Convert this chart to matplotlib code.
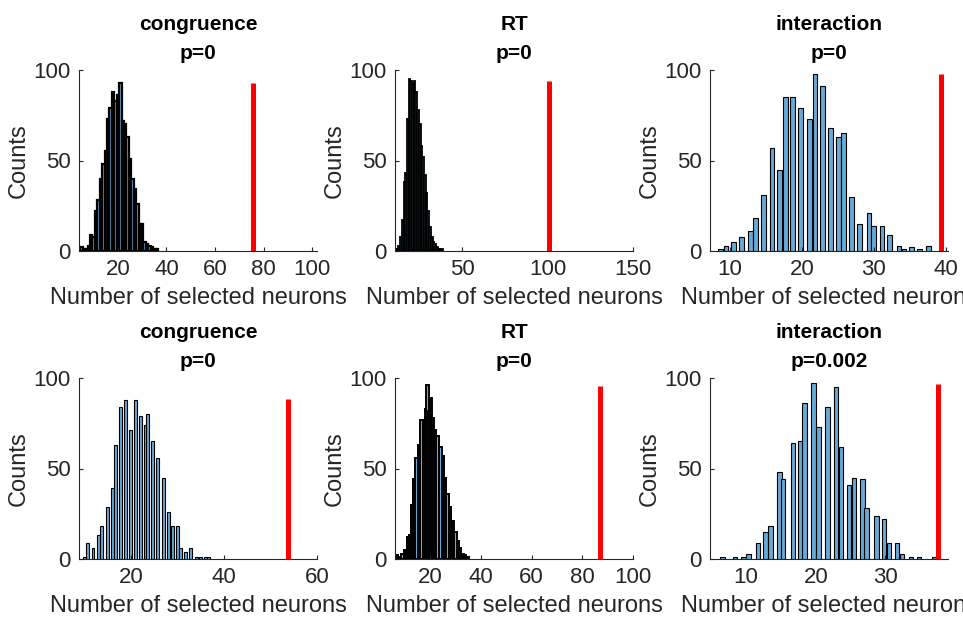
import matplotlib
matplotlib.use("Agg")
import matplotlib.pyplot as plt
import numpy as np

plt.rcParams["font.family"] = ["Liberation Sans", "DejaVu Sans"]

# permutation histograms (bin centres + counts)
cong1_x = list(range(5, 37))
cong1_n = [2, 1, 1, 3, 9, 8, 22, 28, 40, 48, 55, 73, 79, 88, 83, 86,
           93, 72, 70, 63, 51, 40, 34, 26, 15, 15, 5, 4, 3, 2, 1, 1]
rt1_x = list(range(11, 39))
rt1_n = [1, 1, 3, 8, 17, 38, 43, 73, 95, 94, 92, 94, 88, 78, 70, 58,
         52, 42, 32, 22, 13, 8, 5, 4, 2, 1, 1, 1]
int1_x = [8.65, 9.44, 10.5, 11.6, 12.8, 13.5, 14.65, 15.8, 16.9, 17.7,
          18.7, 19.8, 21.0, 21.8, 22.8, 24.0, 25.1, 25.8, 26.9, 28.0,
          29.3, 29.9, 31.1, 32.2, 33.5, 34.2, 35.2, 36.3, 37.6]
int1_n = [1, 3, 5, 8, 11, 18, 31, 57, 45, 85, 85, 79, 73, 98, 91, 68,
          63, 65, 30, 15, 21, 14, 14, 9, 3, 1, 2, 1, 3]
cong2_x = [10.0, 10.7, 11.8, 13.0, 13.7, 15.0, 16.0, 16.7, 17.8, 18.8,
           19.8, 21.0, 22.0, 23.1, 23.6, 24.6, 25.7, 26.9, 28.0, 28.9,
           30.0, 30.7, 31.7, 32.8, 34.0, 35.0, 36.0, 36.7]
cong2_n = [1, 9, 6, 13, 18, 29, 39, 63, 84, 88, 71, 88, 79, 74, 80, 65,
           56, 45, 26, 18, 18, 6, 4, 6, 1, 1, 1, 1]
rt2_x = [7.0, 8.0, 9.1, 10.2, 11.2, 12.1, 13.0, 13.8, 14.7, 15.7, 16.6,
         17.5, 18.3, 19.0, 19.6, 20.3, 21.2, 22.1, 23.0, 24.1, 25.0, 26.0,
         26.9, 28.0, 29.1, 30.0, 30.9, 31.9, 32.9, 33.9, 35.1]
rt2_n = [2, 1, 3, 5, 12, 13, 30, 44, 56, 63, 77, 77, 83, 96, 82, 89, 78,
         71, 68, 62, 57, 45, 36, 29, 21, 15, 10, 6, 3, 2, 1]
int2_x = [6.58, 8.41, 9.6, 10.3, 11.7, 12.8, 13.5, 14.8, 15.3, 16.7,
          17.8, 18.4, 19.7, 20.4, 21.7, 22.9, 23.6, 24.8, 25.5, 26.7,
          27.3, 28.7, 29.8, 30.5, 31.7, 32.4, 33.7, 34.8, 37.0]
int2_n = [1, 1, 1, 3, 9, 15, 18, 48, 44, 64, 65, 86, 97, 73, 84, 95, 62,
          41, 45, 44, 28, 24, 22, 9, 9, 3, 1, 1, 1]

titles = ["congruence", "RT", "interaction"] * 2
pvals = ["p=0", "p=0", "p=0", "p=0", "p=0", "p=0.002"]
observed_x = [75.5, 100.5, 39.3, 53.7, 86.9, 37.6]
observed_h = [92.6, 94.1, 97.8, 88.6, 95.8, 96.7]
xlims = [(4.0, 102), (10.5, 144.5), (7.2, 40.3), (8.8, 59.3), (6.2, 99.6), (4.8, 39.0)]
xticks = [[20, 40, 60, 80, 100], [50, 100, 150], [10, 20, 30, 40],
          [20, 40, 60], [20, 40, 60, 80, 100], [10, 20, 30]]
# dense panels: narrow bins, so the black edges fill most of each bar
bar_w = [1.0, 1.0, 0.65, 0.6, 0.9, 0.65]
edge_lw = [1.6, 1.3, 0.8, 0.8, 1.4, 0.8]
hists = [(cong1_x, cong1_n), (rt1_x, rt1_n), (int1_x, int1_n),
         (cong2_x, cong2_n), (rt2_x, rt2_n), (int2_x, int2_n)]

W, H = 963, 618
fig = plt.figure(figsize=(W / 100, H / 100), dpi=100)
lefts = [79, 395, 710]
tops = [70, 378]
aw, ah = 238, 181
dark = "#262626"

for i, (xs, ns) in enumerate(hists):
    r, c = divmod(i, 3)
    ax = fig.add_axes([lefts[c] / W, 1 - (tops[r] + ah) / H, aw / W, ah / H])
    ax.bar(xs, ns, width=bar_w[i], color="#66AAD7", edgecolor="black",
           linewidth=edge_lw[i])
    ax.vlines(observed_x[i], 0, observed_h[i], color="red", linewidth=3.6)
    ax.set_xlim(*xlims[i])
    ax.set_ylim(0, 100)
    ax.set_xticks(xticks[i])
    ax.set_yticks([0, 50, 100])
    for s in ("top", "right"):
        ax.spines[s].set_visible(False)
    for s in ("left", "bottom"):
        ax.spines[s].set_color(dark)
        ax.spines[s].set_linewidth(0.8)
    ax.tick_params(direction="in", length=3, width=0.8, colors=dark,
                   labelsize=16, pad=6)
    ax.set_xlabel("Number of selected neurons", fontsize=17, color=dark, labelpad=5)
    ax.set_ylabel("Counts", fontsize=17, color=dark, labelpad=3)
    ax.set_title(f"{titles[i]}\n{pvals[i]}", fontsize=15, fontweight="bold",
                 linespacing=1.65, pad=8)

fig.savefig("out.png", dpi=100)
